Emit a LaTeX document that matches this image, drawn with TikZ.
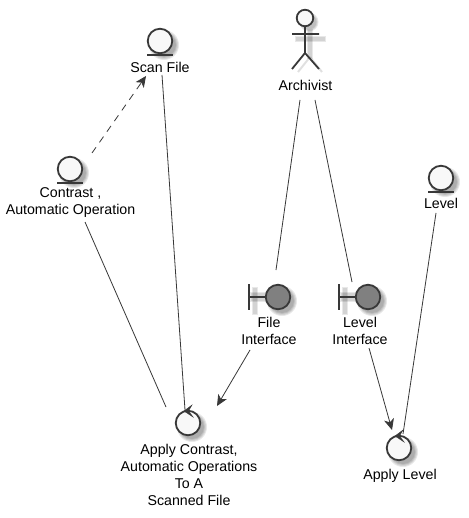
\documentclass[tikz,border=0pt]{standalone}
\usepackage{fontspec}
\setmainfont{Liberation Sans}
\usetikzlibrary{arrows.meta}
\definecolor{ln}{HTML}{383838}
\definecolor{lfill}{HTML}{F8F8F8}
\definecolor{bfill}{HTML}{808080}
\tikzset{
  x=1pt,y=-1pt,
  icon/.style={circle,draw=ln,line width=1.8pt,minimum size=24.5pt,inner sep=0pt,fill=lfill},
  iconb/.style={icon,fill=bfill},
  lab/.style={align=center,font=\fontsize{14.2}{17}\selectfont,inner sep=0pt,text=black},
  conn/.style={draw=ln,line width=0.8pt},
  tip/.style={-{Stealth[length=11pt,width=10pt,inset=3pt]}},
  thick line/.style={draw=ln,line width=1.8pt},
  soft/.style={fill=black,opacity=0.09,draw=none},
}
\newcommand{\softcirc}[3]{%
  \foreach \rr in {15,14,13,12}{\fill[soft] (#1+#3,#2+#3) circle[radius=\rr];}}
\newcommand{\softbar}[4]{%
  \fill[black,opacity=0.09] (#1-1,#2-1) rectangle (#3+1,#4+1);
  \fill[black,opacity=0.09] (#1,#2) rectangle (#3,#4);}
\begin{document}
\begin{tikzpicture}
\useasboundingbox (0,0) rectangle (468,518);
\fill[white] (0,0) rectangle (468,518);
% shadows
\softcirc{160}{41}{4}
\softcirc{70}{169}{4}
\softcirc{441}{178}{4}
\softcirc{278}{297}{4}
\softcirc{368}{297}{4}
\softcirc{188}{423}{4}
\softcirc{399}{448}{4}
\softbar{251}{293}{268}{301}
\softbar{253}{288}{257}{314}
\softbar{341}{293}{358}{301}
\softbar{343}{288}{347}{314}
\softbar{296}{37}{325}{41}
\softbar{308}{30}{312}{58}
\foreach \rr in {9.5,8.5,7.5}{\fill[soft] (309,22) circle[radius=\rr];}
\draw[black,opacity=0.12,line width=2pt] (310,57) -- (298,72) (310,57) -- (322,72);
% entity icons
\node[icon] (scan) at (160,41) {};
\draw[thick line] (147,55) -- (173,55);
\node[icon] (contrast) at (70,169) {};
\draw[thick line] (57,183) -- (83,183);
\node[icon] (level) at (441,178) {};
\draw[thick line] (428,192) -- (454,192);
% actor
\node[icon,minimum size=16.5pt] (head) at (305,18) {};
\coordinate (hip) at (305,53);
\coordinate (lfoot) at (292,69);
\coordinate (rfoot) at (319,69);
\coordinate (larm) at (292,34);
\coordinate (rarm) at (319,34);
\draw[thick line] (head) -- (hip) (larm) -- (rarm) (lfoot) -- (hip) -- (rfoot);
% boundary icons
\node[iconb] (fi) at (278,297) {};
\draw[thick line] (249,284) -- (249,310) (249,297) -- (fi);
\node[iconb] (li) at (368,297) {};
\draw[thick line] (339,284) -- (339,310) (339,297) -- (li);
% control icons
\node[icon] (ac) at (188,423) {};
\draw[draw=ln,fill=ln] (192,405) -- (184,411) -- (193,417) -- (188.5,411) -- cycle;
\node[icon] (al) at (399,448) {};
\draw[draw=ln,fill=ln] (403,430) -- (395,436) -- (404,442) -- (399.5,436) -- cycle;
% labels
\node[lab] (scanl) at (160,67.6) {Scan File};
\node[lab] (contrastl) at (70.5,202.8) {Contrast ,\\Automatic Operation};
\node[lab] (levell) at (441,203.6) {Level};
\node[lab] (archl) at (305.5,85.6) {Archivist};
\node[lab] (fil) at (269,330.8) {File\\Interface};
\node[lab] (lil) at (360,330.8) {Level\\Interface};
\node[lab] (acl) at (189,474.6) {Apply Contrast,\\Automatic Operations\\To A\\Scanned File};
\node[lab] (all) at (400,475.6) {Apply Level};
% connector ends
\coordinate (e1a) at (162,75);   \coordinate (e1b) at (185,410);
\coordinate (e2a) at (85,222);   \coordinate (e2b) at (166,407);
\coordinate (e3a) at (300,100);  \coordinate (e3b) at (276,270);
\coordinate (e4a) at (315,100);  \coordinate (e4b) at (352,282);
\coordinate (e5a) at (250,350);  \coordinate (e5b) at (217,406);
\coordinate (e6a) at (369,348);  \coordinate (e6b) at (392,430);
\coordinate (e7a) at (436,213);  \coordinate (e7b) at (403,434);
\coordinate (e8a) at (92,153);   \coordinate (e8b) at (146,76);
\draw[conn] (e1a) -- (e1b);
\draw[conn] (e2a) -- (e2b);
\draw[conn] (e3a) -- (e3b);
\draw[conn] (e4a) -- (e4b);
\draw[conn,tip] (e5a) -- (e5b);
\draw[conn,tip] (e6a) -- (e6b);
\draw[conn] (e7a) -- (e7b);
\draw[conn,tip,dash pattern=on 7pt off 6pt] (e8a) -- (e8b);
\end{tikzpicture}
\end{document}
